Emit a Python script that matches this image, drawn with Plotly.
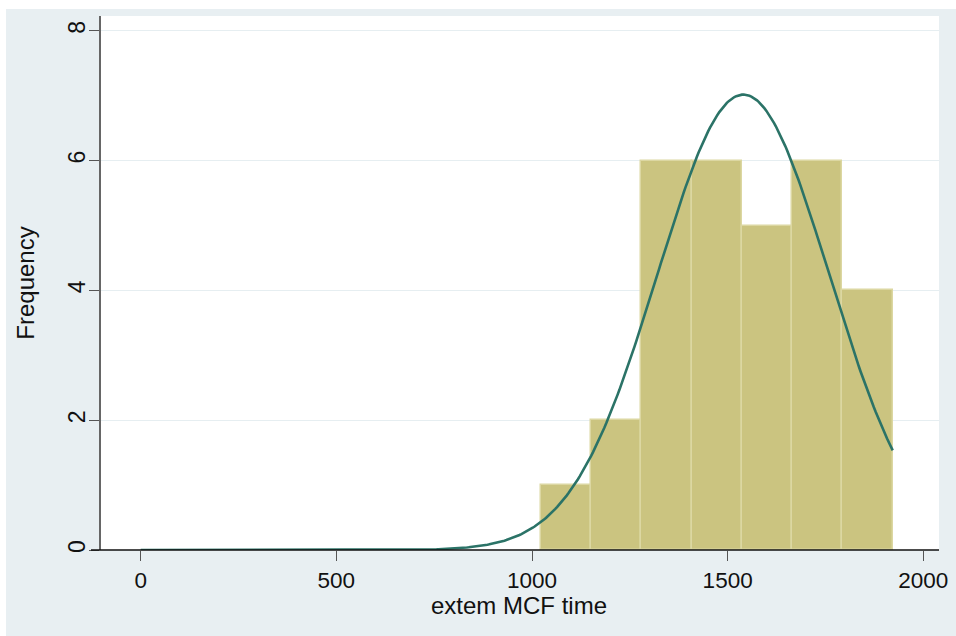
import numpy as np
import plotly.graph_objects as go

# Histogram of extem MCF time: 7 equal-width bins with their frequencies
bin_start = 1023.0
bin_width = 128.4
counts = [1, 2, 6, 6, 5, 6, 4]

# Normal density overlay (mean, sd of the sample), scaled to frequency
norm_mean = 1540.0
norm_sd = 219.0
curve_from, curve_to = 0.0, 1921.8

x_ticks = [0, 500, 1000, 1500, 2000]
y_ticks = [0, 2, 4, 6, 8]

W, H = 956, 636
L, R, T, B = 101, 939, 16, 550  # plot area in pixels

n_total = sum(counts)
centers = [bin_start + bin_width * (i + 0.5) for i in range(len(counts))]

xs = np.linspace(curve_from, curve_to, 400)
dens = np.exp(-0.5 * ((xs - norm_mean) / norm_sd) ** 2) / (norm_sd * np.sqrt(2 * np.pi))
freq_curve = dens * n_total * bin_width

FONT = "Liberation Sans, Arial, sans-serif"
BG = "#e8eff2"

fig = go.Figure()
fig.add_trace(go.Bar(
    x=centers, y=counts, width=[bin_width] * len(counts),
    marker=dict(color="#cbc480", line=dict(color="#dcd7a2", width=1.5)),
    showlegend=False, hoverinfo="x+y",
))
fig.add_trace(go.Scatter(
    x=xs, y=freq_curve, mode="lines",
    line=dict(color="#2b7367", width=2.6),
    showlegend=False,
))

px_w = R - L
px_h = B - T


def px_x(p):
    return (p - L) / px_w


def px_y(q):
    return (B - q) / px_h


x_lo = (L - 140.7) / 0.3913
x_hi = (R - 140.7) / 0.3913
y_hi = (B - T) / 64.9

shapes = [
    # white page edge around the graph region
    dict(type="rect", xref="paper", yref="paper", x0=px_x(0), x1=px_x(W),
         y0=px_y(9), y1=px_y(0), fillcolor="white", line=dict(width=0), layer="below"),
    dict(type="rect", xref="paper", yref="paper", x0=px_x(0), x1=px_x(6),
         y0=px_y(H), y1=px_y(0), fillcolor="white", line=dict(width=0), layer="below"),
    # x axis line, extending slightly left of the y axis
    dict(type="line", xref="paper", yref="paper", x0=px_x(91), x1=1, y0=0, y1=0,
         line=dict(color="#111111", width=1.3), layer="above"),
]

annotations = [
    dict(text="extem MCF time", xref="paper", yref="paper", x=px_x(519), y=px_y(605),
         xanchor="center", yanchor="middle", showarrow=False,
         font=dict(size=24, family=FONT, color="#111111")),
]

fig.update_layout(
    width=W, height=H,
    margin=dict(l=L, r=W - R, t=T, b=H - B, pad=0, autoexpand=False),
    paper_bgcolor=BG, plot_bgcolor="white",
    font=dict(family=FONT, size=23, color="#111111"),
    bargap=0,
    shapes=shapes,
    annotations=annotations,
    xaxis=dict(
        range=[x_lo, x_hi], tickvals=x_ticks, ticktext=[str(v) for v in x_ticks],
        ticks="outside", ticklen=10, tickwidth=1.3, tickcolor="#555555",
        showgrid=False, zeroline=False, showline=False, automargin=False,
        tickfont=dict(size=22.5),
    ),
    yaxis=dict(
        range=[0, y_hi], tickvals=y_ticks, ticktext=[str(v) for v in y_ticks],
        ticks="outside", ticklen=10, tickwidth=1.3, tickcolor="#555555",
        tickangle=-90, tickfont=dict(size=23), ticklabelstandoff=-5,
        showgrid=True, gridcolor="#e6eef1", gridwidth=1.3, automargin=False,
        zeroline=False, showline=True, linecolor="#666666", linewidth=1.5,
        title=dict(text="Frequency", font=dict(size=24), standoff=23),
    ),
)

fig.write_html("out.html")
